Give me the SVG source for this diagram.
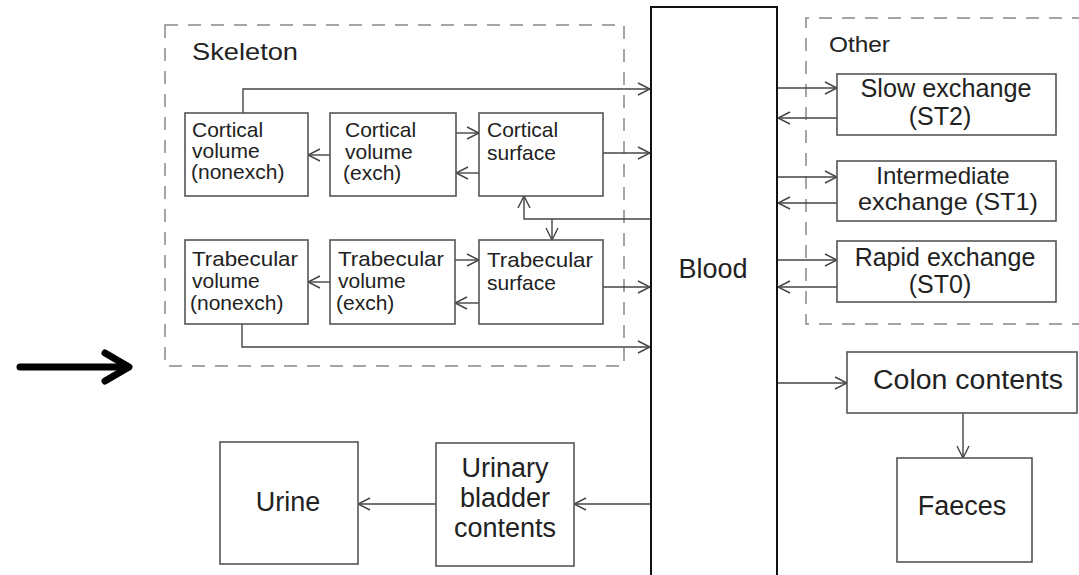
<svg xmlns="http://www.w3.org/2000/svg" width="1079" height="575" viewBox="0 0 1079 575">
  <style>
    .box { fill: #fff; stroke: #555; stroke-width: 1.6; }
    .blood { fill: #fff; stroke: #111; stroke-width: 2; }
    .group { fill: none; stroke: #888; stroke-width: 1.5; stroke-dasharray: 13 10; }
    .conn { fill: none; stroke: #444; stroke-width: 1.4; marker-end: url(#open); }
    text { font-family: "Liberation Sans", Arial, sans-serif; fill: #222; }
    .s21 { font-size: 21px; }
    .s24 { font-size: 24px; text-anchor: middle; }
    .s25 { font-size: 25px; text-anchor: middle; }
    .s27 { font-size: 27px; text-anchor: middle; }
  </style>
  <defs>
    <marker id="open" markerUnits="userSpaceOnUse" markerWidth="14" markerHeight="14" viewBox="0 0 14 14" refX="13" refY="7" orient="auto">
      <path d="M1,1 L13,7 L1,13" fill="none" stroke="#444" stroke-width="1.4"/>
    </marker>
  </defs>
  <rect width="1079" height="575" fill="#fff"/>

  <!-- compartment groupings -->
  <g id="skeleton-group">
    <rect class="group" x="165" y="25" width="459" height="341"/>
    <text x="192" y="60" style="font-size:24px" textLength="106" lengthAdjust="spacingAndGlyphs">Skeleton</text>
  </g>
  <g id="other-group">
    <path class="group" d="M1085,18 H806 V324 H1085"/>
    <text x="829" y="52" style="font-size:22px" textLength="61" lengthAdjust="spacingAndGlyphs">Other</text>
  </g>

  <!-- connectors -->
  <g id="connectors">
    <path class="conn" d="M243,113 V89 H650"/>
    <path class="conn" d="M456,133 H479"/>
    <path class="conn" d="M479,173 H456"/>
    <path class="conn" d="M330,155 H308"/>
    <path class="conn" d="M603,153 H650"/>
    <path class="conn" d="M651,219 H524 V196"/>
    <path class="conn" d="M552,219 V240"/>
    <path class="conn" d="M455,260 H479"/>
    <path class="conn" d="M479,303 H455"/>
    <path class="conn" d="M330,282 H308"/>
    <path class="conn" d="M603,287 H650"/>
    <path class="conn" d="M242,324 V347 H650"/>
    <path class="conn" d="M777,88 H837"/>
    <path class="conn" d="M837,118 H778"/>
    <path class="conn" d="M777,177 H837"/>
    <path class="conn" d="M837,203 H778"/>
    <path class="conn" d="M777,260 H837"/>
    <path class="conn" d="M837,287 H778"/>
    <path class="conn" d="M777,383 H847"/>
    <path class="conn" d="M963,413 V458"/>
    <path class="conn" d="M650,504 H574"/>
    <path class="conn" d="M436,504 H358"/>
  </g>

  <!-- skeleton compartments -->
  <g id="cortical-nonexch">
    <rect class="box" x="185" y="113" width="123" height="83"/>
    <text class="s21" x="192" y="137">Cortical</text>
    <text class="s21" x="192" y="158">volume</text>
    <text class="s21" x="191" y="179">(nonexch)</text>
  </g>
  <g id="cortical-exch">
    <rect class="box" x="330" y="113" width="126" height="83"/>
    <text class="s21" x="345" y="137">Cortical</text>
    <text class="s21" x="345" y="159">volume</text>
    <text class="s21" x="343" y="180">(exch)</text>
  </g>
  <g id="cortical-surface">
    <rect class="box" x="479" y="113" width="124" height="83"/>
    <text class="s21" x="487" y="137">Cortical</text>
    <text class="s21" x="487" y="160">surface</text>
  </g>
  <g id="trabecular-nonexch">
    <rect class="box" x="185" y="240" width="123" height="84"/>
    <text class="s21" x="192" y="266" textLength="106" lengthAdjust="spacingAndGlyphs">Trabecular</text>
    <text class="s21" x="192" y="288">volume</text>
    <text class="s21" x="190" y="310">(nonexch)</text>
  </g>
  <g id="trabecular-exch">
    <rect class="box" x="330" y="240" width="125" height="84"/>
    <text class="s21" x="338" y="266" textLength="106" lengthAdjust="spacingAndGlyphs">Trabecular</text>
    <text class="s21" x="338" y="288">volume</text>
    <text class="s21" x="336" y="310">(exch)</text>
  </g>
  <g id="trabecular-surface">
    <rect class="box" x="479" y="240" width="124" height="84"/>
    <text class="s21" x="487" y="267" textLength="106" lengthAdjust="spacingAndGlyphs">Trabecular</text>
    <text class="s21" x="487" y="290">surface</text>
  </g>

  <!-- central blood compartment -->
  <g id="blood">
    <rect class="blood" x="651" y="7" width="126" height="580"/>
    <text class="s27" x="713" y="278">Blood</text>
  </g>

  <!-- soft tissue compartments -->
  <g id="st2">
    <rect class="box" x="837" y="74" width="219" height="61"/>
    <text class="s25" x="946" y="97" textLength="171" lengthAdjust="spacingAndGlyphs">Slow exchange</text>
    <text class="s25" x="940" y="125">(ST2)</text>
  </g>
  <g id="st1">
    <rect class="box" x="837" y="161" width="219" height="60"/>
    <text class="s24" x="943" y="184">Intermediate</text>
    <text class="s24" x="948" y="210" textLength="180" lengthAdjust="spacingAndGlyphs">exchange (ST1)</text>
  </g>
  <g id="st0">
    <rect class="box" x="837" y="241" width="219" height="61"/>
    <text class="s25" x="945" y="266">Rapid exchange</text>
    <text class="s25" x="940" y="293">(ST0)</text>
  </g>

  <!-- excretion pathways -->
  <g id="colon">
    <rect class="box" x="847" y="352" width="230" height="61"/>
    <text class="s27" x="968" y="389" textLength="190" lengthAdjust="spacingAndGlyphs">Colon contents</text>
  </g>
  <g id="faeces">
    <rect class="box" x="897" y="458" width="135" height="104"/>
    <text class="s27" x="962" y="515">Faeces</text>
  </g>
  <g id="bladder">
    <rect class="box" x="436" y="443" width="138" height="123"/>
    <text class="s27" x="505" y="477">Urinary</text>
    <text class="s27" x="505" y="507">bladder</text>
    <text class="s27" x="505" y="537">contents</text>
  </g>
  <g id="urine">
    <rect class="box" x="220" y="442" width="138" height="122"/>
    <text class="s27" x="288" y="511">Urine</text>
  </g>

  <!-- bold pointer arrow -->
  <g id="pointer" fill="none" stroke="#000" stroke-width="7" stroke-linecap="round" stroke-linejoin="round">
    <path d="M20,367 H126"/>
    <path d="M105,353 L129,367 L105,381"/>
  </g>
</svg>
